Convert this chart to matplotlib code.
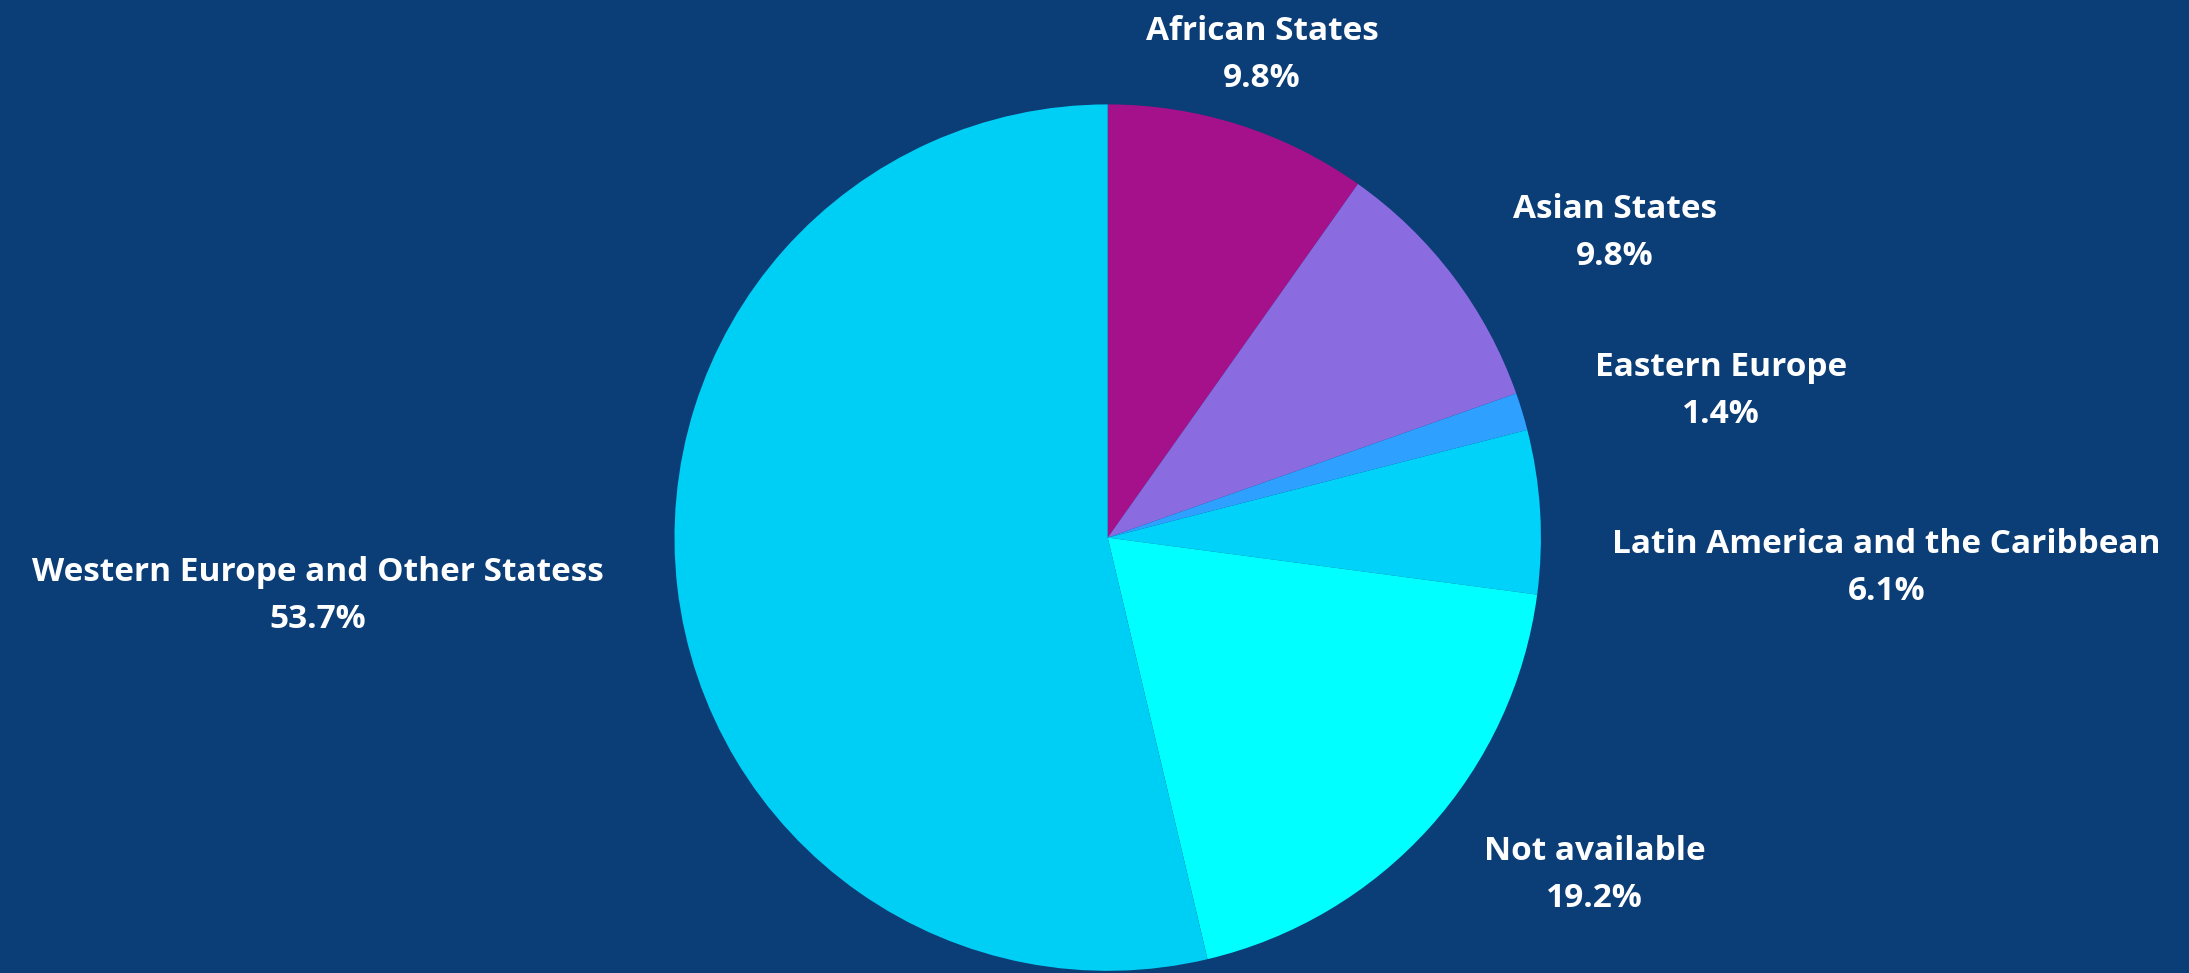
import matplotlib.pyplot as plt

regions = ['African States', 'Asian States', 'Eastern Europe',
           'Latin America and the Caribbean', 'Not available',
           'Western Europe and Other Statess']
shares = [9.8, 9.8, 1.4, 6.1, 19.2, 53.7]
colors = ['#A5108B', '#8A6BE0', '#2EA0FF', '#00D2FA', '#00FFFF', '#00CFF5']

bg = '#0B3D77'

# label centres, in pie-radius units
label_pos = [(0.356, 1.115), (1.170, 0.704), (1.416, 0.338),
             (1.798, -0.069), (1.124, -0.778), (-1.823, -0.135)]

fig = plt.figure(figsize=(21.89, 9.73), dpi=100)
fig.patch.set_facecolor(bg)
ax = fig.add_axes([0, 0, 1, 1])
ax.set_facecolor(bg)

ax.pie(shares, colors=colors, startangle=90, counterclock=False,
       radius=1, wedgeprops={'linewidth': 0})

for name, val, (x, y) in zip(regions, shares, label_pos):
    ax.text(x, y, f'{name}\n{val}%', ha='center', va='center',
            color='white', fontsize=24, fontweight='bold',
            family='Open Sans', linespacing=1.56)

ax.set_aspect('auto')
ax.set_xlim(-2.557, 2.496)
ax.set_ylim(-1.005, 1.241)
ax.axis('off')

fig.savefig('out.png', facecolor=bg)
